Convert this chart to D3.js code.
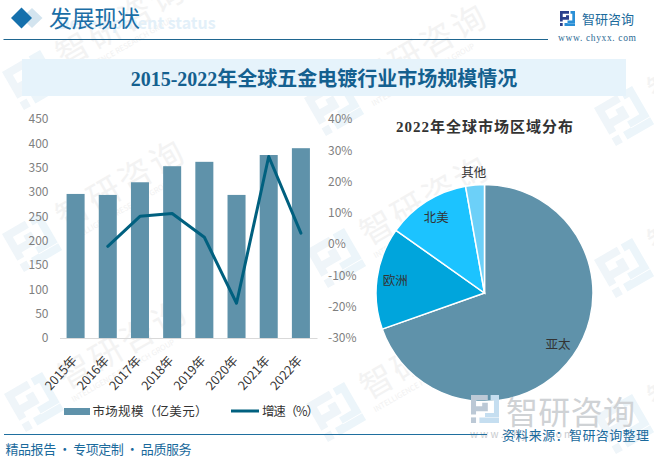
<!DOCTYPE html>
<html><head><meta charset="utf-8">
<script src="https://cdn.jsdelivr.net/npm/d3@7"></script>
<style>
html,body{margin:0;padding:0;background:#fff}
svg{display:block}
text{font-family:"Noto Sans CJK SC","Noto Sans",sans-serif}
.serif{font-family:"Liberation Serif","Noto Sans CJK SC",serif}
</style></head><body>
<svg id="c" width="654" height="459"></svg>
<script>
const years=["2015年","2016年","2017年","2018年","2019年","2020年","2021年","2022年"];
const marketSize=[296,294,320,353,362,294,376,390];
const growth=[null,-0.7,8.9,9.8,2.2,-18.9,28,3.5];
const leftTicks=[0,50,100,150,200,250,300,350,400,450];
const rightTicks=[-30,-20,-10,0,10,20,30,40];
const regions=["亚太","欧洲","北美","其他"];
const regionShare=[69.6,15.2,12.4,2.8];
const regionColors=["#5f92aa","#00a5dc","#1cc3ff","#6cd0f8"];
const barName="市场规模（亿美元）";
const lineName="增速（%）";

const svg=d3.select("#c");
const BLUE="#1a6a9c";

function logo(g,s,dark,light){
  const u=s/10;
  g.append("path").attr("fill",dark).attr("d",
    `M0 0H${6*u}V${1.8*u}H${1.8*u}V${4*u}H${4*u}V${2.8*u}H${6*u}V${5.8*u}H${1.8*u}V${7*u}H0Z`);
  g.append("rect").attr("x",0).attr("y",8*u).attr("width",1.8*u).attr("height",2*u).attr("fill",dark);
  g.append("path").attr("fill",light).attr("d",
    `M${7*u} 0H${10*u}V${8*u}H${3*u}V${10*u}H${10*u}V${8.2*u}H${5*u}V${6.4*u}H${8.2*u}V${1.8*u}H${7*u}Z`);
}
// background watermark
const wm=svg.append("g");
const wmPos=[[2,72],[304,98],[594,108],[2,234],[306,250],[594,260],[4,394],[306,404],[594,416]];
wmPos.forEach(p=>{
  const t=wm.append("g").attr("transform",`translate(${p[0]},${p[1]}) rotate(-30)`);
  logo(t.append("g"),44,"#eff5f9","#ecf5fa");
  t.append("text").text("智研咨询").attr("x",56).attr("y",28).attr("font-size",33)
    .attr("letter-spacing",3).attr("fill","#f3f3f3");
  t.append("text").text("INTELLIGENCE RESEARCH GROUP").attr("x",56).attr("y",42).attr("font-size",7.5)
    .attr("fill","#f1f1f1").attr("font-family","Liberation Sans");
});

// header
svg.append("text").text("Development status").attr("x",58).attr("y",29).attr("font-size",16)
  .attr("font-weight",700).attr("fill","#e3f0f9").attr("font-family","DejaVu Sans");
svg.append("path").attr("d","M32 8L42.5 18L32 28L21.5 18Z").attr("fill","#d3e4ef");
svg.append("path").attr("d","M21.5 7.5L32 18L21.5 28.5L11 18Z").attr("fill","#1570ac");
svg.append("text").text("发展现状").attr("x",49).attr("y",27).attr("font-size",23)
  .attr("fill","#1b6ea6").attr("class","serif").attr("textLength",91);
svg.append("line").attr("x1",3.5).attr("x2",548).attr("y1",39.5).attr("y2",39.5)
  .attr("stroke","#1f6690").attr("stroke-width",1);
logo(svg.append("g").attr("transform","translate(560,11)"),15,"#2a3f8c","#2a8fd6");
svg.append("text").text("智研咨询").attr("x",582).attr("y",23.5).attr("font-size",13)
  .attr("fill",BLUE).attr("textLength",52);
svg.append("text").text("www. chyxx. com").attr("x",558).attr("y",41).attr("font-size",9.5)
  .attr("class","serif").attr("fill","#2c6a94").attr("textLength",78);

// title band
svg.append("rect").attr("x",22).attr("y",59).attr("width",604).attr("height",37).attr("fill","#e6f3fb");
svg.append("text").text("2015-2022年全球五金电镀行业市场规模情况").attr("x",324).attr("y",86)
  .attr("text-anchor","middle").attr("font-size",20).attr("font-weight",700)
  .attr("class","serif").attr("fill","#14608f");

// combo chart
const x=d3.scaleBand().domain(years).range([59.5,317]).paddingInner(0.44).paddingOuter(0.22);
const yL=d3.scaleLinear().domain([0,450]).range([338,119]);
const yR=d3.scaleLinear().domain([-30,40]).range([338,119]);

svg.append("g").selectAll("rect").data(years).join("rect")
  .attr("x",d=>x(d)).attr("width",x.bandwidth())
  .attr("y",(d,i)=>yL(marketSize[i])).attr("height",(d,i)=>338-yL(marketSize[i]))
  .attr("fill","#5f92aa");

const gx=svg.append("g").attr("transform","translate(0,338)").call(d3.axisBottom(x).tickSize(0));
gx.select(".domain").attr("stroke","#d9d9d9");
gx.selectAll("text").attr("font-size",12.5).attr("fill","#333").attr("text-anchor","end")
  .attr("dy",0).attr("dx",0)
  .attr("transform","translate(2,23) rotate(-48)").attr("y",0).attr("x",0);

const gl=svg.append("g").attr("transform","translate(48.5,0)")
  .call(d3.axisLeft(yL).tickValues(leftTicks).tickSize(0).tickPadding(0));
gl.select(".domain").remove();
gl.selectAll("text").attr("font-size",12).attr("fill","#7f7f7f").attr("font-family","Liberation Sans");

const gr=svg.append("g").attr("transform","translate(328,0)")
  .call(d3.axisRight(yR).tickValues(rightTicks).tickSize(0).tickPadding(0).tickFormat(d=>d+"%"));
gr.select(".domain").remove();
gr.selectAll("text").attr("font-size",12).attr("fill","#7f7f7f").attr("font-family","Liberation Sans");

const line=d3.line().defined(d=>d!=null)
  .x((d,i)=>x(years[i])+x.bandwidth()/2).y(d=>yR(d));
svg.append("path").attr("d",line(growth)).attr("fill","none").attr("stroke","#00607f")
  .attr("stroke-width",3).attr("stroke-linejoin","round").attr("stroke-linecap","round");

// pie
const pieG=svg.append("g").attr("transform","translate(484.5,293)");
const arcs=d3.pie().sort(null)(regionShare);
const R=108.5;
const arc=d3.arc().innerRadius(0).outerRadius(R);
pieG.selectAll("path").data(arcs).join("path").attr("d",arc)
  .attr("fill",(d,i)=>regionColors[i]).attr("stroke","#fff").attr("stroke-width",1.5);
const labelArc=d3.arc().innerRadius(90).outerRadius(90);
const outArc=d3.arc().innerRadius(121).outerRadius(121);
pieG.selectAll("text").data(arcs).join("text").text((d,i)=>regions[i])
  .attr("transform",(d,i)=>`translate(${(i===3?outArc:labelArc).centroid(d)})`)
  .attr("text-anchor","middle").attr("dy","0.36em").attr("font-size",12.5).attr("fill","#333");
svg.append("text").text("2022年全球市场区域分布").attr("x",396).attr("y",132)
  .attr("font-size",15).attr("font-weight",700).attr("textLength",177)
  .attr("class","serif").attr("fill","#333");

// legend
svg.append("rect").attr("x",64).attr("y",408).attr("width",26).attr("height",7).attr("fill","#5f92aa");
svg.append("text").text(barName).attr("x",92.5).attr("y",416).attr("font-size",12.5)
  .attr("fill","#333").attr("textLength",115);
svg.append("line").attr("x1",231).attr("x2",259).attr("y1",411).attr("y2",411)
  .attr("stroke","#00607f").attr("stroke-width",3);
svg.append("text").text(lineName).attr("x",262).attr("y",416).attr("font-size",12.5)
  .attr("fill","#333").attr("textLength",57);

// big watermark, footer
logo(svg.append("g").attr("transform","translate(471,395)"),28,"#bcc9d6","#c5def0");
svg.append("text").text("智研咨询").attr("x",506).attr("y",424).attr("font-size",32)
  .attr("fill","#cfd2d5").attr("textLength",129);
svg.append("text").text("w w w . c h y x x . c o m").attr("x",470).attr("y",438).attr("font-size",10)
  .attr("fill","#c9cccf");
svg.append("line").attr("x1",4).attr("x2",487).attr("y1",434.5).attr("y2",434.5)
  .attr("stroke","#1f6f9f").attr("stroke-width",1);
svg.append("text").text("精品报告 · 专项定制 · 品质服务").attr("x",5.5).attr("y",454).attr("font-size",13)
  .attr("fill",BLUE).attr("textLength",186);
svg.append("text").text("资料来源：智研咨询整理").attr("x",502).attr("y",439.5).attr("font-size",13)
  .attr("fill",BLUE).attr("textLength",147);
</script></body></html>
